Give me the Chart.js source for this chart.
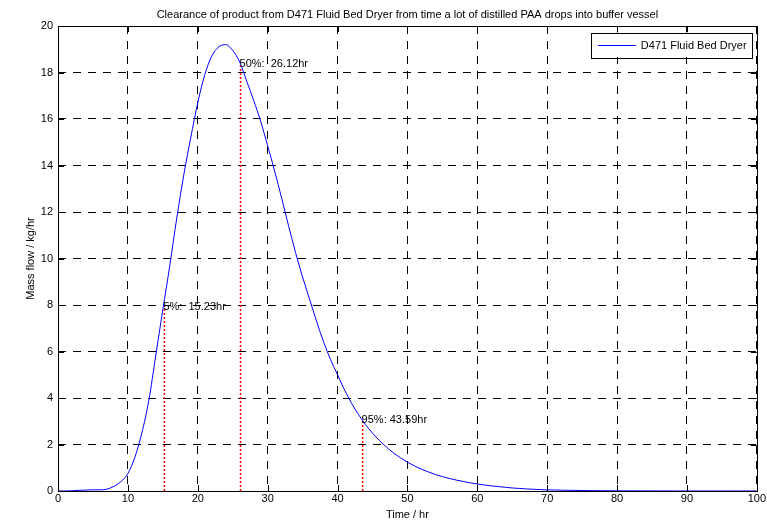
<!DOCTYPE html>
<html><head><meta charset="utf-8">
<script src="https://cdn.jsdelivr.net/npm/chart.js@4/dist/chart.umd.min.js"></script>
<style>html,body{margin:0;padding:0;background:#fff;}#wrap{width:767px;height:522px;}</style>
</head><body><div id="wrap"><canvas id="c" width="767" height="522"></canvas></div>
<script>
const chartTitle = 'Clearance of product from D471 Fluid Bed Dryer from time a lot of distilled PAA drops into buffer vessel';
const seriesName = 'D471 Fluid Bed Dryer';
const xAxisTitle = 'Time / hr';
const yAxisTitle = 'Mass flow / kg/hr';
const timeHr = [0,1,2,3,4,5,6,7,8,9,10,11,12,13,14,15,16,17,18,19,20,21,22,23,24,25,26,27,28,29,30,31,32,33,34,35,36,37,38,39,40,41,42,43,44,45,46,47,48,49,50,51,52,53,54,55,56,57,58,59,60,61,62,63,64,65,66,67,68,69,70,71,72,73,74,75,76,77,78,79,80,81,82,83,84,85,86,87,88,89,90,91,92,93,94,95,96,97,98,99,100];
const massFlow = [0,0,0.01,0.03,0.04,0.05,0.05,0.08,0.2,0.4,0.75,1.45,2.5,3.9,5.85,7.8,9.7,11.75,13.6,15.2,16.7,17.9,18.7,19.1,19.2,18.95,18.45,17.63,16.8,15.9,14.85,13.76,12.6,11.4,10.25,9.2,8.25,7.3,6.42,5.65,5.0,4.35,3.78,3.29,2.86,2.49,2.17,1.89,1.64,1.43,1.24,1.08,0.94,0.82,0.71,0.62,0.54,0.47,0.41,0.35,0.3,0.26,0.22,0.19,0.16,0.13,0.11,0.09,0.075,0.06,0.05,0.042,0.035,0.03,0.025,0.02,0.017,0.014,0.012,0.01,0.008,0.007,0.006,0.005,0.004,0.004,0.003,0.003,0.002,0.002,0.002,0.001,0.001,0.001,0.001,0.001,0.001,0.001,0.001,0.001,0.001];
const markerTimes = [15.23, 26.12, 43.59];
const markerFlows = [7.95, 18.4, 3.1];
const markerLabels = ['5%:  15.23hr', '50%:  26.12hr', '95%: 43.59hr'];
const xTicks = [0,10,20,30,40,50,60,70,80,90,100];
const yTicks = [0,2,4,6,8,10,12,14,16,18,20];

const FONT = "'Liberation Sans', Arial, Helvetica, sans-serif";

const curveData = timeHr.map((t, i) => ({x: t, y: massFlow[i]}));
const markerSets = markerTimes.map((t, i) => ({
  label: markerLabels[i],
  data: [{x: t, y: 0}, {x: t, y: markerFlows[i]}],
  borderColor: '#ff0000',
  borderWidth: 1.5,
  borderDash: [2, 2],
  pointRadius: 0,
  fill: false,
  tension: 0
}));

const decorPlugin = {
  id: 'decor',
  afterDatasetsDraw(chart) {
    const {ctx, chartArea: a, scales: {x, y}} = chart;
    ctx.save();
    ctx.strokeStyle = '#000';
    ctx.lineWidth = 1;
    ctx.setLineDash([]);
    ctx.beginPath();
    xTicks.forEach(v => {
      const px = Math.round(x.getPixelForValue(v)) + 0.5;
      ctx.moveTo(px, a.bottom); ctx.lineTo(px, a.bottom - 6);
      ctx.moveTo(px, a.top); ctx.lineTo(px, a.top + 6);
    });
    yTicks.forEach(v => {
      const py = Math.round(y.getPixelForValue(v)) + 0.5;
      ctx.moveTo(a.left, py); ctx.lineTo(a.left + 6, py);
      ctx.moveTo(a.right, py); ctx.lineTo(a.right - 6, py);
    });
    ctx.stroke();
    ctx.strokeRect(Math.round(a.left) + 0.5, Math.round(a.top) + 0.5, Math.round(a.right - a.left), Math.round(a.bottom - a.top));
    ctx.fillStyle = '#000';
    ctx.font = '11px ' + FONT;
    ctx.textAlign = 'left';
    ctx.textBaseline = 'middle';
    markerTimes.forEach((t, i) => {
      ctx.fillText(markerLabels[i], x.getPixelForValue(t) - 1, y.getPixelForValue(markerFlows[i]) + 1);
    });
    const lx = a.right - 166, ly = a.top + 6.5, lw = 161, lh = 24.5;
    ctx.fillStyle = '#fff';
    ctx.fillRect(lx, ly, lw, lh);
    ctx.strokeStyle = '#000';
    ctx.strokeRect(Math.round(lx) + 0.5, Math.round(ly) + 0.5, lw, Math.round(lh));
    const my = Math.round(ly + lh / 2) + 0.5;
    ctx.strokeStyle = '#0000ff';
    ctx.beginPath(); ctx.moveTo(lx + 7, my); ctx.lineTo(lx + 45, my); ctx.stroke();
    ctx.fillStyle = '#000';
    ctx.fillText(seriesName, lx + 50, my);
    ctx.textAlign = 'center';
    ctx.fillText(chartTitle, (a.left + a.right) / 2, 14.5);
    ctx.restore();
  }
};

new Chart(document.getElementById('c'), {
  type: 'line',
  data: {
    datasets: [{
      label: seriesName,
      data: curveData,
      borderColor: '#0000ff',
      borderWidth: 1,
      pointRadius: 0,
      fill: false,
      cubicInterpolationMode: 'monotone'
    }, ...markerSets]
  },
  options: {
    responsive: false,
    animation: false,
    devicePixelRatio: 1,
    layout: {padding: {top: 26, right: 9, left: 0, bottom: 0}},
    plugins: {legend: {display: false}, title: {display: false}, tooltip: {enabled: false}},
    scales: {
      x: {
        type: 'linear', min: 0, max: 100,
        afterBuildTicks: s => { s.ticks = xTicks.map(v => ({value: v})); },
        afterFit: s => { s.height = 31; },
        grid: {color: '#000', lineWidth: 1, drawTicks: false},
        border: {display: false, dash: [8, 7]},
        ticks: {color: '#000', font: {family: FONT, size: 11}, padding: 1, maxRotation: 0, autoSkip: false},
        title: {display: true, text: xAxisTitle, color: '#000', font: {family: FONT, size: 11}, padding: {top: 0, bottom: 0.5}}
      },
      y: {
        type: 'linear', min: 0, max: 20,
        afterBuildTicks: s => { s.ticks = yTicks.map(v => ({value: v})); },
        afterFit: s => { s.width = 58; },
        grid: {color: '#000', lineWidth: 1, drawTicks: false},
        border: {display: false, dash: [8, 7]},
        ticks: {color: '#000', font: {family: FONT, size: 11}, padding: 5, autoSkip: false},
        title: {display: true, text: yAxisTitle, color: '#000', font: {family: FONT, size: 11}, padding: {top: 24, bottom: 0}}
      }
    }
  },
  plugins: [decorPlugin]
});
</script></body></html>
